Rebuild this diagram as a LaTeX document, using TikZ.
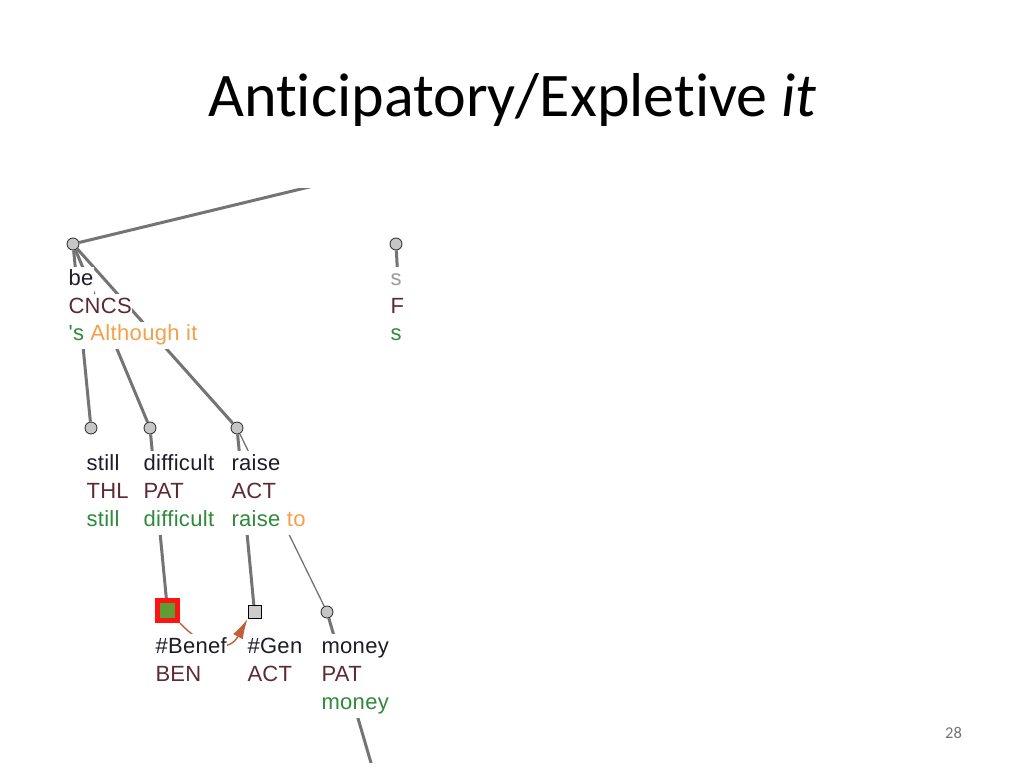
\documentclass[tikz,border=0pt]{standalone}
\usepackage{fontspec}
\setmainfont{Carlito}[Ligatures={NoCommon,TeX}]
\newfontfamily\tf{Liberation Sans}[Ligatures=TeXOff,LetterSpace=1.5]
\usetikzlibrary{arrows.meta}
\definecolor{lem}{HTML}{1C1C2C}
\definecolor{fun}{HTML}{5C2A35}
\definecolor{grn}{HTML}{2F8A3C}
\definecolor{org}{HTML}{F4A04A}
\definecolor{lgr}{HTML}{9A9A9A}
\definecolor{edg}{HTML}{747474}
\definecolor{cor}{HTML}{C0603A}
\definecolor{bgreen}{HTML}{5E9C36}
\definecolor{bred}{HTML}{FF1414}
\begin{document}
\begin{tikzpicture}[x=1pt,y=-1pt,
  tnode/.style={circle,draw=black!85,fill=gray!45,line width=0.8pt,minimum size=12pt,inner sep=0pt},
  gnode/.style={rectangle,draw=black,fill=gray!40,line width=1pt,minimum size=13pt,inner sep=0pt},
  bnode/.style={rectangle,draw=bred,fill=bgreen,line width=5pt,minimum size=20pt,inner sep=0pt},
  edge/.style={draw=edg,line width=3pt},
  thinedge/.style={draw=edg,line width=1.3pt},
  coref/.style={draw=cor,line width=1.4pt,-{Latex[length=20pt,width=11pt]}},
  lbl/.style={anchor=base west,inner xsep=0.5pt,inner ysep=0pt,outer sep=0pt,fill=white,
    text height=19pt,text depth=8.5pt,font=\tf\fontsize{22}{22}\selectfont}]
\useasboundingbox (0,0) rectangle (1024,768);
\fill[white] (0,0) rectangle (1024,768);
% title
\node[anchor=base,inner sep=0pt] (title) at (512.5,116) {\fontsize{62}{62}\selectfont Anticipatory/Expletive \textit{it}};
\node[anchor=base,inner sep=0pt,text=black!55] (pnum) at (953.5,738) {\fontsize{16.5}{16.5}\selectfont 28};
\begin{scope}
\clip (55,188) rectangle (403,762);
% tree nodes
\node[tnode] (be) at (73,244) {};
\node[tnode] (sn) at (396,244) {};
\node[tnode] (still) at (91,428) {};
\node[tnode] (difficult) at (150,428) {};
\node[tnode] (raise) at (237,428) {};
\node[bnode] (benef) at (167.5,610.5) {};
\node[gnode] (gen) at (254.5,612) {};
\node[tnode] (money) at (327,612) {};
\coordinate (bepar) at (421,160);
\coordinate (snc) at (399,300);
\coordinate (mch) at (376,780);
% edges
\draw[edge] (be) -- (bepar);
\draw[edge] (be) -- (still);
\draw[edge] (be) -- (difficult);
\draw[edge] (be) -- (raise);
\draw[edge] (sn) -- (snc);
\draw[edge] (difficult) -- (benef);
\draw[edge] (raise) -- (gen);
\draw[thinedge] (raise) -- (money);
\draw[edge] (money) -- (mch);
\draw[coref] (benef.south east) .. controls (200,645) and (228,655) .. (gen.south west);
% labels
\node[lbl,text=lem] (be1) at (68,285.5) {be};
\node[lbl,text=fun] (be2) at (68,313) {CNCS};
\node[lbl] (be3) at (68,340.5) {\textcolor{grn}{'s} \textcolor{org}{Although it}};
\node[lbl,text=lgr] (sn1) at (390,285.5) {s};
\node[lbl,text=fun] (sn2) at (390,313) {F};
\node[lbl,text=grn] (sn3) at (390,340.5) {s};
\node[lbl,text=lem] (st1) at (86,470) {still};
\node[lbl,text=fun] (st2) at (86,498) {THL};
\node[lbl,text=grn] (st3) at (86,526) {still};
\node[lbl,text=lem] (di1) at (143,470) {difficult};
\node[lbl,text=fun] (di2) at (143,498) {PAT};
\node[lbl,text=grn] (di3) at (143,526) {difficult};
\node[lbl,text=lem] (ra1) at (231,470) {raise};
\node[lbl,text=fun] (ra2) at (231,498) {ACT};
\node[lbl] (ra3) at (231,526) {\textcolor{grn}{raise} \textcolor{org}{to}};
\node[lbl,text=lem] (bn1) at (155,653) {\#Benef};
\node[lbl,text=fun] (bn2) at (155,681) {BEN};
\node[lbl,text=lem] (ge1) at (247,653) {\#Gen};
\node[lbl,text=fun] (ge2) at (247,681) {ACT};
\node[lbl,text=lem] (mo1) at (321,653) {money};
\node[lbl,text=fun] (mo2) at (321,681) {PAT};
\node[lbl,text=grn] (mo3) at (321,709) {money};
\end{scope}
\end{tikzpicture}
\end{document}
